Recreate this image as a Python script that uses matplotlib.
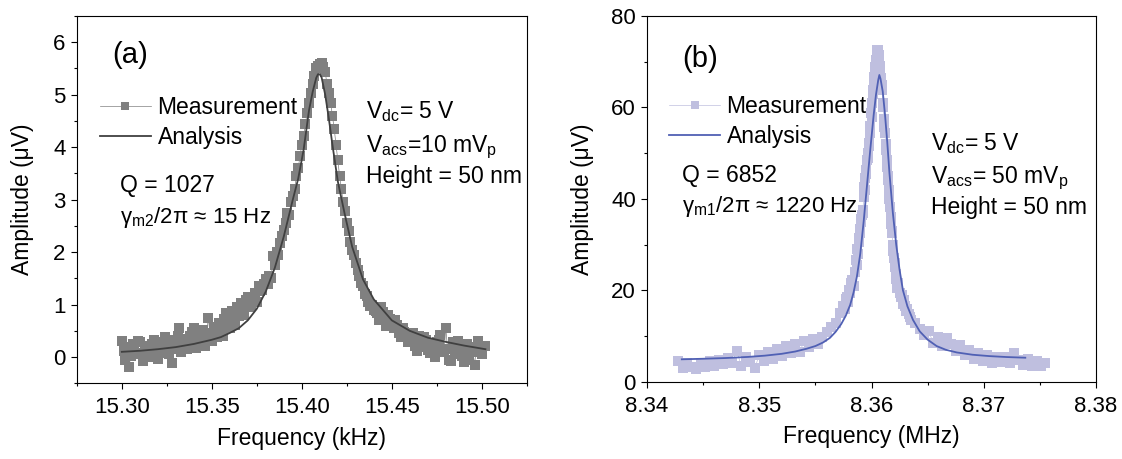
import matplotlib
matplotlib.use("Agg")
import matplotlib.pyplot as plt
from matplotlib.ticker import MultipleLocator

plt.rcParams['font.family'] = ['Liberation Sans', 'DejaVu Sans']
plt.rcParams['mathtext.fontset'] = 'custom'
plt.rcParams['mathtext.rm'] = 'Liberation Sans'
plt.rcParams['mathtext.it'] = 'Liberation Sans:italic'
plt.rcParams['mathtext.bf'] = 'Liberation Sans:bold'

# ---- panel (a): kHz mode ----
freq_a_low = [15.300, 15.302, 15.304, 15.306, 15.308, 15.310, 15.312, 15.314, 15.316, 15.318,
              15.320, 15.322, 15.324, 15.326, 15.328, 15.330, 15.332, 15.334, 15.336, 15.338,
              15.340, 15.342, 15.344, 15.346, 15.348, 15.350, 15.352, 15.354, 15.356, 15.358,
              15.360, 15.362, 15.364, 15.366, 15.368, 15.370, 15.372, 15.374, 15.376, 15.378,
              15.380]
amp_a_low = [0.30, -0.05, -0.18, 0.25, 0.05, 0.28, -0.08, 0.22, 0.10, 0.32,
             -0.04, 0.18, 0.38, 0.05, -0.12, 0.30, 0.55, 0.20, 0.15, 0.40,
             0.55, 0.30, 0.45, 0.22, 0.75, 0.30, 0.48, 0.65, 0.40, 0.84,
             0.55, 0.70, 0.95, 1.03, 0.80, 1.15, 1.00, 1.22, 1.35, 1.28,
             1.48]
freq_a_low2 = [15.301, 15.303, 15.305, 15.307, 15.309, 15.311, 15.313, 15.315, 15.317, 15.319,
               15.321, 15.323, 15.325, 15.327, 15.329, 15.331, 15.333, 15.335, 15.337, 15.339,
               15.341, 15.343, 15.345, 15.347, 15.349, 15.351, 15.353, 15.355, 15.357, 15.359,
               15.361, 15.363, 15.365, 15.367, 15.369, 15.371, 15.373, 15.375, 15.377, 15.379]
amp_a_low2 = [0.12, 0.20, 0.02, 0.15, 0.30, 0.08, 0.18, 0.00, 0.25, 0.12,
              0.28, 0.08, 0.22, 0.32, 0.15, 0.40, 0.10, 0.35, 0.28, 0.48,
              0.18, 0.38, 0.52, 0.35, 0.45, 0.58, 0.38, 0.55, 0.72, 0.60,
              0.88, 0.62, 0.78, 0.90, 1.08, 0.95, 1.12, 1.05, 1.25, 1.40]
freq_a_peak = [15.381, 15.382, 15.383, 15.384, 15.385, 15.386, 15.387, 15.388, 15.389, 15.390,
               15.391, 15.392, 15.393, 15.394, 15.395, 15.396, 15.397, 15.398, 15.399, 15.400,
               15.401, 15.402, 15.403, 15.404, 15.405, 15.406, 15.407, 15.408, 15.409, 15.410,
               15.411, 15.412, 15.413, 15.414, 15.415, 15.416, 15.417, 15.418, 15.419, 15.420,
               15.421, 15.422, 15.423, 15.424, 15.425, 15.426, 15.427, 15.428, 15.429, 15.430,
               15.431, 15.432, 15.433, 15.434, 15.435, 15.436, 15.437, 15.438, 15.439, 15.440]
amp_a_peak = [1.40, 1.55, 1.50, 1.92, 1.75, 2.00, 1.95, 2.18, 2.30, 2.43,
              2.55, 2.75, 2.70, 2.95, 3.07, 3.20, 3.45, 3.60, 3.83, 4.05,
              4.21, 4.45, 4.66, 4.85, 5.04, 5.20, 5.35, 5.50, 5.55, 5.58,
              5.60, 5.52, 5.43, 5.20, 5.04, 4.85, 4.60, 4.35, 4.05, 3.75,
              3.45, 3.20, 2.95, 2.78, 2.55, 2.40, 2.20, 2.05, 1.95, 1.80,
              1.65, 1.55, 1.42, 1.35, 1.20, 1.16, 1.05, 0.97, 1.00, 0.90]
freq_a_high = [15.442, 15.444, 15.446, 15.448, 15.450, 15.452, 15.454, 15.456, 15.458, 15.460,
               15.462, 15.464, 15.466, 15.468, 15.470, 15.472, 15.474, 15.476, 15.478, 15.480,
               15.482, 15.484, 15.486, 15.488, 15.490, 15.492, 15.494, 15.496, 15.498, 15.500,
               15.502]
amp_a_high = [0.84, 0.95, 0.75, 0.80, 0.65, 0.70, 0.46, 0.55, 0.40, 0.33,
              0.45, 0.11, 0.30, 0.38, 0.14, 0.25, 0.01, 0.32, 0.15, 0.55,
              -0.05, 0.28, 0.05, 0.20, -0.10, 0.25, 0.10, -0.15, 0.30, 0.05,
              0.22]
freq_a_high2 = [15.441, 15.443, 15.445, 15.447, 15.449, 15.451, 15.453, 15.455, 15.457, 15.459,
                15.461, 15.463, 15.465, 15.467, 15.469, 15.471, 15.473, 15.475, 15.477, 15.479,
                15.481, 15.483, 15.485, 15.487, 15.489, 15.491, 15.493, 15.495, 15.497, 15.499]
amp_a_high2 = [0.88, 0.70, 0.85, 0.60, 0.72, 0.55, 0.62, 0.38, 0.48, 0.28,
               0.35, 0.22, 0.40, 0.20, 0.32, 0.08, 0.18, 0.28, 0.42, 0.10,
               0.15, -0.08, 0.12, 0.30, 0.02, 0.18, -0.05, 0.12, 0.20, 0.10]

fit_freq_a = [15.300, 15.310, 15.320, 15.330, 15.340, 15.350, 15.355, 15.360, 15.365, 15.370,
              15.375, 15.380, 15.385, 15.390, 15.395, 15.398, 15.401, 15.404, 15.406, 15.408,
              15.409, 15.410, 15.411, 15.413, 15.415, 15.417, 15.420, 15.424, 15.428, 15.434,
              15.440, 15.445, 15.450, 15.460, 15.470, 15.480, 15.490, 15.502]
fit_amp_a = [0.10, 0.12, 0.15, 0.19, 0.25, 0.33, 0.38, 0.46, 0.55, 0.70,
             0.92, 1.25, 1.70, 2.30, 3.00, 3.40, 3.95, 4.70, 5.05, 5.32,
             5.39, 5.39, 5.33, 5.00, 4.55, 4.05, 3.35, 2.70, 2.10, 1.48,
             1.10, 0.90, 0.70, 0.50, 0.37, 0.29, 0.22, 0.15]

# ---- panel (b): MHz mode ----
freq_b_low = [8.3428, 8.3432, 8.3436, 8.3440, 8.3444, 8.3448, 8.3452, 8.3456, 8.3460, 8.3464,
              8.3468, 8.3472, 8.3476, 8.3480, 8.3484, 8.3488, 8.3492, 8.3496, 8.3500, 8.3504,
              8.3508, 8.3512, 8.3516, 8.3520, 8.3524, 8.3528, 8.3532, 8.3536, 8.3540, 8.3544,
              8.3548, 8.3552, 8.3556, 8.3560, 8.3564, 8.3568, 8.3572]
amp_b_low = [4.5, 3.0, 4.2, 3.3, 2.8, 4.0, 3.2, 4.6, 3.5, 4.8,
             3.9, 5.2, 4.1, 6.8, 3.4, 5.5, 4.3, 2.9, 5.9, 4.5,
             6.4, 5.0, 7.2, 5.6, 7.9, 6.3, 8.2, 6.6, 8.8, 7.6,
             9.3, 8.2, 9.8, 10.8, 12.0, 12.8, 15.0]
freq_b_rise = [8.3575, 8.3576, 8.3577, 8.3578, 8.3579, 8.3580, 8.3581, 8.3582, 8.3583, 8.3584,
               8.3585, 8.3586, 8.3587]
amp_b_rise = [16.5, 15.8, 18.0, 18.6, 17.5, 20.0, 19.5, 21.5, 22.2, 21.0,
              24.0, 26.6, 25.5]
freq_b_peak = [8.35875, 8.35880, 8.35885, 8.35890, 8.35895, 8.35900, 8.35905, 8.35910, 8.35915, 8.35920,
               8.35925, 8.35930, 8.35935, 8.35940, 8.35945, 8.35950, 8.35955, 8.35960, 8.35965, 8.35970,
               8.35975, 8.35980, 8.35985, 8.35990, 8.35995, 8.36000, 8.36005, 8.36010, 8.36015, 8.36020,
               8.36025, 8.36030, 8.36035, 8.36040, 8.36045, 8.36050, 8.36055, 8.36060, 8.36065, 8.36070,
               8.36075, 8.36080, 8.36085, 8.36090, 8.36095, 8.36100, 8.36105, 8.36110, 8.36115, 8.36120,
               8.36125, 8.36130, 8.36135, 8.36140, 8.36145, 8.36150, 8.36155, 8.36160, 8.36165, 8.36170,
               8.36175, 8.36180, 8.36185, 8.36190, 8.36195, 8.36200, 8.36205, 8.36210, 8.36215, 8.36220,
               8.36225]
amp_b_peak = [29.0, 28.0, 30.5, 31.5, 32.5, 33.5, 35.5, 35.0, 36.5, 37.0,
              37.6, 40.5, 42.7, 42.0, 44.5, 46.3, 45.5, 48.5, 50.0, 49.0,
              51.5, 52.2, 54.3, 56.0, 58.7, 58.0, 61.0, 63.8, 63.0, 66.0,
              66.7, 68.9, 68.0, 70.4, 71.0, 72.6, 71.5, 72.6, 70.4, 71.5,
              68.2, 69.0, 66.5, 65.0, 63.8, 61.0, 60.0, 57.5, 55.8, 54.5,
              52.0, 50.7, 48.5, 47.0, 45.0, 44.1, 42.0, 40.0, 38.3, 36.0,
              34.5, 33.0, 32.5, 30.0, 28.5, 27.0, 25.9, 25.0, 23.5, 22.5,
              21.5]
freq_b_fall = [8.3623, 8.3624, 8.3625, 8.3626, 8.3627, 8.3628, 8.3629, 8.3630, 8.3631, 8.3632,
               8.3633, 8.3634, 8.3635]
amp_b_fall = [20.5, 21.5, 19.5, 18.5, 19.0, 17.0, 17.9, 16.5, 15.5, 16.0,
              14.8, 14.2, 13.5]
freq_b_high = [8.3639, 8.3643, 8.3647, 8.3651, 8.3655, 8.3659, 8.3663, 8.3667, 8.3671, 8.3675,
               8.3679, 8.3683, 8.3687, 8.3691, 8.3695, 8.3699, 8.3703, 8.3707, 8.3711, 8.3715,
               8.3719, 8.3723, 8.3727, 8.3731, 8.3735, 8.3739, 8.3743, 8.3747, 8.3751, 8.3755]
amp_b_high = [12.8, 11.5, 10.2, 11.0, 8.5, 9.8, 7.8, 9.5, 8.2, 6.8,
              8.0, 5.9, 7.0, 5.0, 6.2, 4.6, 5.8, 4.2, 5.5, 4.4,
              5.3, 4.0, 6.2, 4.8, 3.6, 4.9, 3.4, 4.6, 3.5, 4.2]

fit_freq_b = [8.3431, 8.3450, 8.3470, 8.3490, 8.3505, 8.3520, 8.3532, 8.3542, 8.3550, 8.3557,
              8.3563, 8.3568, 8.3573, 8.3577, 8.3581, 8.3584, 8.3587, 8.3590, 8.3593, 8.3596,
              8.3599, 8.3602, 8.3604, 8.3606, 8.3607, 8.3608, 8.3610, 8.3612, 8.3614, 8.3616,
              8.3619, 8.3622, 8.3625, 8.3628, 8.3632, 8.3637, 8.3643, 8.3650, 8.3658, 8.3666,
              8.3676, 8.3690, 8.3705, 8.3720, 8.3737]
fit_amp_b = [4.90, 5.02, 5.18, 5.42, 5.70, 6.10, 6.60, 7.20, 7.80, 8.60,
             9.60, 10.9, 12.6, 14.4, 16.8, 19.5, 23.0, 28.0, 35.0, 43.0,
             51.0, 58.5, 62.8, 66.0, 67.1, 66.3, 63.5, 58.5, 52.5, 45.6,
             37.0, 30.0, 24.5, 20.0, 16.5, 13.5, 11.0, 9.2, 7.8, 7.0,
             6.4, 5.9, 5.6, 5.4, 5.25]

# measurement sweeps in frequency order
pts_a = sorted(zip(freq_a_low + freq_a_low2 + freq_a_peak + freq_a_high + freq_a_high2,
                   amp_a_low + amp_a_low2 + amp_a_peak + amp_a_high + amp_a_high2))
freq_a = [p[0] for p in pts_a]
amp_a = [p[1] for p in pts_a]
freq_b = freq_b_low + freq_b_rise + freq_b_peak + freq_b_fall + freq_b_high
amp_b = amp_b_low + amp_b_rise + amp_b_peak + amp_b_fall + amp_b_high

FS = 16.5


def style(ax):
    for s in ax.spines.values():
        s.set_linewidth(0.8)
    ax.tick_params(which='both', direction='out', top=False, right=False,
                   labelsize=16, width=0.8)
    ax.tick_params(which='major', length=4)
    ax.tick_params(which='minor', length=2.5)
    ax.tick_params(axis='x', which='major', pad=6)
    ax.tick_params(axis='y', which='major', pad=4)


fig = plt.figure(figsize=(11.22, 4.59), dpi=100)
ax1 = fig.add_axes([0.06845, 0.1649, 0.40107, 0.80022])
ax2 = fig.add_axes([0.57665, 0.1684, 0.40018, 0.79673])

# panel (a)
m1, = ax1.plot(freq_a, amp_a, '-s', color='#808080', lw=0.5, ms=6.5, mew=0,
               label='Measurement')
f1, = ax1.plot(fit_freq_a, fit_amp_a, '-', color='#404040', lw=1.3,
               label='Analysis')
ax1.set_xlim(15.275, 15.525)
ax1.set_ylim(-0.5, 6.5)
ax1.xaxis.set_major_locator(MultipleLocator(0.05))
ax1.xaxis.set_minor_locator(MultipleLocator(0.025))
ax1.yaxis.set_major_locator(MultipleLocator(1))
ax1.yaxis.set_minor_locator(MultipleLocator(0.5))
ax1.xaxis.set_major_formatter(plt.FormatStrFormatter('%.2f'))
style(ax1)
ax1.set_xlabel('Frequency (kHz)', fontsize=FS, labelpad=6)
ax1.set_ylabel('Amplitude (μV)', fontsize=FS)
ax1.yaxis.set_label_coords(-0.095, 0.5)
ax1.legend([m1, f1], ['Measurement', 'Analysis'], loc='center left',
           bbox_to_anchor=(0.052, 0.710), frameon=False, fontsize=FS,
           handlelength=2.2, handletextpad=0.3, labelspacing=0.3,
           borderpad=0, borderaxespad=0, numpoints=1, markerscale=0.9)
ax1.text(0.0796, 0.871, '(a)', transform=ax1.transAxes, fontsize=21, va='baseline')
ax1.text(0.095, 0.522, 'Q = 1027', transform=ax1.transAxes, fontsize=FS, va='baseline')
ax1.text(0.095, 0.437, r'γ$_{\mathrm{m2}}$/2π ≈ 15 Hz', transform=ax1.transAxes,
         fontsize=16, va='baseline')
ax1.text(0.6418, 0.722, r'V$_{\mathrm{dc}}$= 5 V', transform=ax1.transAxes,
         fontsize=FS, va='baseline')
ax1.text(0.6418, 0.6306, r'V$_{\mathrm{acs}}$=10 mV$_{\mathrm{p}}$', transform=ax1.transAxes,
         fontsize=FS, va='baseline')
ax1.text(0.6418, 0.5445, 'Height = 50 nm', transform=ax1.transAxes,
         fontsize=FS, va='baseline')

# panel (b)
m2, = ax2.plot(freq_b, amp_b, '-s', color='#bfbfdf', lw=0.5, ms=7.2, mew=0,
               label='Measurement')
f2, = ax2.plot(fit_freq_b, fit_amp_b, '-', color='#5060b4', lw=1.3,
               label='Analysis')
ax2.set_xlim(8.34, 8.38)
ax2.set_ylim(0, 80)
ax2.xaxis.set_major_locator(MultipleLocator(0.01))
ax2.xaxis.set_minor_locator(MultipleLocator(0.005))
ax2.yaxis.set_major_locator(MultipleLocator(20))
ax2.yaxis.set_minor_locator(MultipleLocator(10))
ax2.xaxis.set_major_formatter(plt.FormatStrFormatter('%.2f'))
style(ax2)
ax2.set_xlabel('Frequency (MHz)', fontsize=FS, labelpad=6)
ax2.set_ylabel('Amplitude (μV)', fontsize=FS)
ax2.yaxis.set_label_coords(-0.118, 0.5)
ax2.legend([m2, f2], ['Measurement', 'Analysis'], loc='center left',
           bbox_to_anchor=(0.0497, 0.712), frameon=False, fontsize=FS,
           handlelength=2.2, handletextpad=0.3, labelspacing=0.3,
           borderpad=0, borderaxespad=0, numpoints=1, markerscale=0.8)
ax2.text(0.0777, 0.861, '(b)', transform=ax2.transAxes, fontsize=21, va='baseline')
ax2.text(0.0777, 0.547, 'Q = 6852', transform=ax2.transAxes, fontsize=FS, va='baseline')
ax2.text(0.0777, 0.463, r'γ$_{\mathrm{m1}}$/2π ≈ 1220 Hz', transform=ax2.transAxes,
         fontsize=16, va='baseline')
ax2.text(0.6325, 0.632, r'V$_{\mathrm{dc}}$= 5 V', transform=ax2.transAxes,
         fontsize=FS, va='baseline')
ax2.text(0.6325, 0.542, r'V$_{\mathrm{acs}}$= 50 mV$_{\mathrm{p}}$', transform=ax2.transAxes,
         fontsize=FS, va='baseline')
ax2.text(0.6325, 0.4586, 'Height = 50 nm', transform=ax2.transAxes,
         fontsize=FS, va='baseline')

fig.savefig('out.png', dpi=100)
